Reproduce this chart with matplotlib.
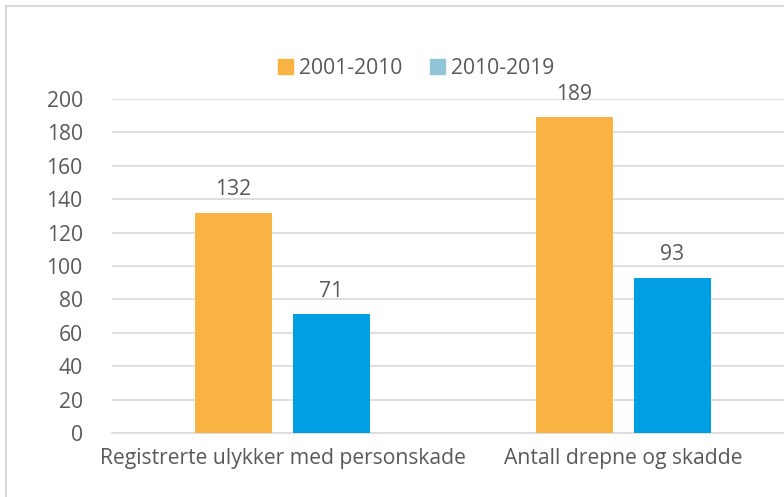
import matplotlib
matplotlib.use("Agg")
import matplotlib.pyplot as plt
from matplotlib.lines import Line2D
from matplotlib.patches import Patch
import numpy as np

categories = ["Registrerte ulykker med personskade", "Antall drepne og skadde"]
series_names = ["2001-2010", "2010-2019"]
values_2001_2010 = [132, 189]
values_2010_2019 = [71, 93]
yticks = [0, 20, 40, 60, 80, 100, 120, 140, 160, 180, 200]

bar_colors = ["#F8B343", "#009FE3"]
legend_colors = ["#F8B343", "#92C5D8"]
text_color = "#595959"
grid_color = "#D9D9D9"

plt.rcParams["font.family"] = ["Open Sans", "DejaVu Sans"]
FS = 15.2

fig = plt.figure(figsize=(7.84, 4.97), dpi=100)
W, H = 784, 497
ax = fig.add_axes([112 / W, 1 - 433 / H, 682 / W, (433 - 99) / H])

x = np.arange(len(categories))
bw = 0.223
off = 0.1437
b1 = ax.bar(x - off, values_2001_2010, bw, color=bar_colors[0], zorder=3)
b2 = ax.bar(x + off, values_2010_2019, bw, color=bar_colors[1], zorder=3)

for bars, vals in ((b1, values_2001_2010), (b2, values_2010_2019)):
    for rect, v in zip(bars, vals):
        ax.annotate(str(v), (rect.get_x() + rect.get_width() / 2, v),
                    xytext=(0, 9), textcoords="offset points",
                    ha="center", va="bottom", fontsize=FS, color=text_color)

ax.set_xlim(-0.5, 1.5)
ax.set_ylim(0, 200)
ax.set_yticks(yticks)
ax.set_yticklabels([str(t) for t in yticks], fontsize=FS, color=text_color)
ax.set_xticks(x)
ax.set_xticklabels(categories, fontsize=FS, color=text_color)
ax.tick_params(axis="y", length=0, pad=21)
ax.tick_params(axis="x", length=0, pad=11)
ax.yaxis.grid(True, color=grid_color, linewidth=1.2, zorder=0)
ax.set_axisbelow(True)
for s in ["top", "right", "left"]:
    ax.spines[s].set_visible(False)
ax.spines["bottom"].set_color(grid_color)
ax.spines["bottom"].set_linewidth(1.2)

handles = [Patch(color=c, label=n) for c, n in zip(legend_colors, series_names)]
fig.legend(handles=handles, loc="center", bbox_to_anchor=(416 / W, 1 - 68 / H),
           ncol=2, frameon=False, fontsize=FS, labelcolor=text_color,
           handlelength=0.7, handleheight=0.7, handletextpad=0.3, columnspacing=1.3)

fig.add_artist(Line2D([5.5 / W, 5.5 / W], [0, 1 - 5.5 / H], color="#D9D9D9", linewidth=1.5))
fig.add_artist(Line2D([5.5 / W, 1], [1 - 5.5 / H, 1 - 5.5 / H], color="#D9D9D9", linewidth=1.5))

fig.savefig("out.png", dpi=100)
